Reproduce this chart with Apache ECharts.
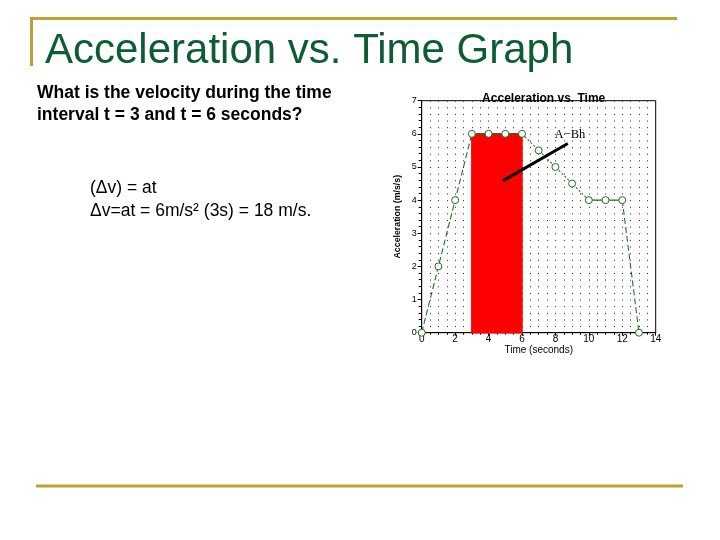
<!DOCTYPE html>
<html>
<head>
<meta charset="utf-8">
<script src="https://cdn.jsdelivr.net/npm/echarts@6/dist/echarts.min.js"></script>
<style>
html,body{margin:0;padding:0;background:#fff;}
#chart{width:720px;height:540px;}
</style>
</head>
<body>
<div id="chart"></div>
<script>
// ---- data ----
const timeValues = [0, 1, 2, 3, 4, 5, 6, 7, 8, 9, 10, 11, 12, 13];
const accelValues = [0, 2, 4, 6, 6, 6, 6, 5.5, 5, 4.5, 4, 4, 4, 0];
const shadedInterval = [3, 6];      // t from 3 to 6 s
const shadedHeight = 6;             // a = 6 m/s/s
const annotationFrom = [4.85, 4.58];
const annotationTo = [8.74, 5.71];
const annotationTextPos = [8.87, 5.97];
const annotationText = 'A\u2212Bh';
const chartTitle = 'Acceleration vs. Time';
const xAxisName = 'Time (seconds)';
const yAxisName = 'Acceleration (m/s/s)';
const slideTitle = 'Acceleration vs. Time Graph';
const questionLines = ['What is the velocity during the time', 'interval t = 3 and t = 6 seconds?'];
const formulaLines = ['(\u0394v) = at', '\u0394v=at = 6m/s\u00b2 (3s) = 18 m/s.'];

// ---- layout / style ----
const G = {left: 421.7, top: 100.7, width: 234, height: 232};
const rowStep = G.height / 35;
const green = '#226f22';
const gold = '#BDA132';
const sans = '"Liberation Sans", Arial, sans-serif';

// line segments: index ranges with their own dash style
const segments = [
  {from: 0, to: 3, type: [6, 3]},
  {from: 3, to: 6, type: 'solid'},
  {from: 6, to: 10, type: [2, 2]},
  {from: 10, to: 12, type: 'solid'},
  {from: 12, to: 13, type: [6, 3]}
];

const points = timeValues.map((t, i) => [t, accelValues[i]]);

const series = [];
series.push({
  type: 'line', data: [], z: 1, silent: true,
  markArea: {
    silent: true,
    itemStyle: {color: '#ff0000', opacity: 1, borderColor: '#ff0000', borderWidth: 1.5},
    data: [[{coord: [shadedInterval[0], 0]}, {coord: [shadedInterval[1], shadedHeight]}]]
  }
});
segments.forEach(s => {
  series.push({
    type: 'line', z: 2, silent: true, symbol: 'none',
    data: points.slice(s.from, s.to + 1),
    lineStyle: {color: green, width: 1.1, type: s.type}
  });
});
series.push({
  type: 'scatter', z: 3, silent: true, data: points,
  symbol: 'circle', symbolSize: 7,
  itemStyle: {color: '#ffffff', borderColor: green, borderWidth: 1, opacity: 1}
});
series.push({
  type: 'line', data: [], z: 5, silent: true,
  markLine: {
    silent: true, symbol: 'none', animation: false,
    lineStyle: {color: '#000', width: 3, type: 'solid'},
    label: {show: false},
    data: [[{coord: annotationFrom}, {coord: annotationTo}]]
  },
  markPoint: {
    silent: true, symbol: 'rect', symbolSize: 1,
    itemStyle: {color: 'rgba(0,0,0,0)'},
    label: {show: true, position: 'inside', formatter: annotationText,
            fontFamily: '"Liberation Serif", "Times New Roman", serif', fontSize: 12.5, color: '#000'},
    data: [{coord: annotationTextPos}]
  }
});

const chart = echarts.init(document.getElementById('chart'), null, {renderer: 'canvas'});
chart.setOption({
  animation: false,
  backgroundColor: '#ffffff',
  title: {
    text: chartTitle, left: G.left + G.width / 2, top: 88, textAlign: 'center',
    textStyle: {fontFamily: sans, fontSize: 12, fontWeight: 'bold', color: '#000'}
  },
  grid: {
    left: G.left, top: G.top, width: G.width, height: G.height,
    show: true, borderColor: '#000', borderWidth: 1, backgroundColor: 'transparent'
  },
  xAxis: {
    type: 'value', min: 0, max: 14, interval: 2,
    name: xAxisName, nameLocation: 'middle', nameGap: 12,
    nameTextStyle: {fontFamily: sans, fontSize: 10, color: '#000'},
    axisLine: {show: true, lineStyle: {color: '#000', width: 1}},
    axisTick: {show: true, length: 3, lineStyle: {color: '#000'}},
    minorTick: {show: true, splitNumber: 4, length: 2, lineStyle: {color: '#000'}},
    axisLabel: {fontFamily: sans, fontSize: 10, color: '#000', margin: 2},
    splitLine: {show: true, lineStyle: {color: '#222', width: 1, type: [1, rowStep - 1]}},
    minorSplitLine: {show: true, lineStyle: {color: '#222', width: 1, type: [1, rowStep - 1]}}
  },
  yAxis: {
    type: 'value', min: 0, max: 7, interval: 1,
    name: yAxisName, nameLocation: 'middle', nameGap: 20, nameRotate: 90,
    nameTextStyle: {fontFamily: sans, fontSize: 8.8, fontWeight: 'bold', color: '#000'},
    axisLine: {show: true, lineStyle: {color: '#000', width: 1}},
    axisTick: {show: true, length: 4, lineStyle: {color: '#000'}},
    minorTick: {show: true, splitNumber: 5, length: 3, lineStyle: {color: '#000'}},
    axisLabel: {fontFamily: sans, fontSize: 9, color: '#000', margin: 5},
    splitLine: {show: false}
  },
  series: series,
  graphic: [
    {type: 'line', shape: {x1: 30, y1: 18.5, x2: 677, y2: 18.5}, style: {stroke: gold, lineWidth: 3}},
    {type: 'line', shape: {x1: 31.5, y1: 17, x2: 31.5, y2: 66}, style: {stroke: gold, lineWidth: 3}},
    {type: 'line', shape: {x1: 36, y1: 486, x2: 683, y2: 486}, style: {stroke: gold, lineWidth: 3}},
    {type: 'text', x: 45, y: 51, style: {text: slideTitle, font: '42px ' + sans, fill: '#0e5c33', verticalAlign: 'middle'}},
    {type: 'text', x: 37, y: 93, style: {text: questionLines[0], font: 'bold 17.5px ' + sans, fill: '#000', verticalAlign: 'middle'}},
    {type: 'text', x: 37, y: 115.5, style: {text: questionLines[1], font: 'bold 17.5px ' + sans, fill: '#000', verticalAlign: 'middle'}},
    {type: 'text', x: 90, y: 188.5, style: {text: formulaLines[0], font: '17.5px ' + sans, fill: '#000', verticalAlign: 'middle'}},
    {type: 'text', x: 90, y: 211, style: {text: formulaLines[1], font: '17.5px ' + sans, fill: '#000', verticalAlign: 'middle'}}
  ]
});
</script>
</body>
</html>
